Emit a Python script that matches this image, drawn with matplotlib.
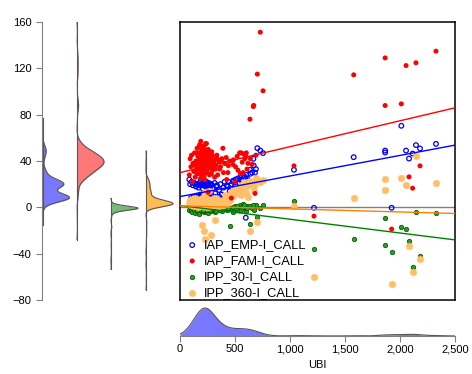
import numpy as np
import matplotlib
matplotlib.use("Agg")
from matplotlib import pyplot as plt
from matplotlib.ticker import FuncFormatter

plt.rcParams["font.family"] = ["Liberation Sans", "DejaVu Sans"]

# observations: UBI and the four call series (same rows)
ubi = [85, 92, 100, 105, 112, 118, 125, 132, 138, 145, 150, 156, 162, 168, 172,
       178, 184, 189, 194, 199, 204, 208, 213, 218, 222, 226, 231, 236, 240, 245,
       250, 255, 260, 266, 272, 278, 285, 292, 300, 310, 320, 330, 342, 355, 368,
       380, 395, 410, 425, 440, 452, 467, 482, 500, 527, 542, 557, 573, 590, 603,
       618, 598, 682,
       140, 148, 155, 163, 170, 176, 182, 187, 192, 197, 202, 206, 211, 215, 219,
       223, 227, 229, 233, 235, 238, 242, 247, 252, 257, 262, 268, 274, 280, 288,
       295, 305, 315, 325, 335, 348, 360, 375, 390, 405, 420, 435, 150, 175, 200,
       225, 250, 275, 300, 215, 235, 255, 190, 210, 230, 245, 265, 220, 240, 260,
       485, 505, 520, 550, 565, 580, 610, 640, 655, 690,
       636, 667, 670, 703, 730, 755,
       1036, 1218, 1579, 1865, 1865, 1924, 2012, 2055, 2082, 2115, 2145, 2182, 2327]
iap_emp = [24, 20, 8, 22, 6, 19, 9, 21, 7, 18, 10, 20, 5, 17, 8,
           21, 11, 23, 7, 19, 9, 16, 6, 20, 12, 8, 18, 10, 21, 7,
           14, 9, 19, 6, 17, 8, 20, 10, 16, 7, 12, 18, 9, 15, 20,
           11, 17, 8, 19, 22, 14, 20, 23, 18, 25, 21, 24, 20, 26, 28,
           23, -9, 30,
           8, 20, 7, 10, 9, 19, 6, 22, 10, 8, 8, 20, 7, 9, 11,
           19, 8, 6, 20, 10, 7, 22, 9, 8, 8, 21, 6, 19, 10, 7,
           8, 7, 21, 9, 19, 8, 9, 11, 7, 22, 9, 18, 8, 10, 10,
           19, 7, 20, 8, 11, 6, 19, 9, 21, 8, 7, 10, 20, 7, 9,
           22, 24, 21, 26, 23, 27, 25, 29, 30, 33,
           32.4, 41.9, 36.1, 51.1, 49.0, 46.8,
           32.4, -0.4, 43.3, 49.0, 47.3, -0.4, 70.4, 49.0, 42.1, 46.4, 53.7, 50.8, 54.8]
iap_fam = [28, 42, 35, 45, 22, 38, 31, 47, 26, 40, 33, 51, 29, 44, 37,
           54, 41, 57, 35, 49, 39, 46, 27, 52, 42, 36, 48, 39, 55, 31,
           44, 13, 38, 47, 34, 41, 29, 45, 37, 40, 33, 43, 28, 39, 35,
           42, 30, 38, 24, 36, 40, 8, 37, 22, 32, 47, 47, 30, 42, 47,
           38, 44, 12,
           36, 47, 29, 44, 33, 52, 42, 25, 45, 40, 31, 49, 43, 38, 27,
           34, 46, 39, 55, 42, 30, 36, 44, 38, 50, 35, 28, 43, 37, 48,
           32, 41, 26, 36, 45, 41, 33, 40, 51, 38, 43, 30, 39, 47, 37,
           24, 38, 42, 35, 53, 44, 37, 29, 38, 46, 36, 39, 31, 48, 40,
           41, 35, 44, 29, 39, 46, 33, 42, 37, 45,
           76.1, 87.0, 88.0, 115.0, 151.2, 100.6,
           35.8, -7.6, 114.4, 129.0, 87.9, -18.8, 89.3, 122.4, 26.3, 16.5, 124.8, 35.8, 134.8]
ipp_30 = [-2, 0, -3, -1, -4, 1, -2, 0, -5, -1, 2, -3, -1, 0, -6,
          -2, 1, -1, -3, 0, -2, 3, -1, -4, 0, -2, 1, -1, -3, 0,
          -5, -1, 2, -2, 0, -3, -1, 1, -2, 0, -4, -1, 2, -2, 0,
          -3, -1, 1, -2, 0, -16, -1, -4, 1, -2, 2, -1, 3, 0, -3,
          1, -1, 0,
          -1, 0, -2, -1, 1, -1, 0, -2, -1, 0, -1, -3, 0, -1, 1,
          -2, -1, 0, -1, 2, 0, -1, -2, -1, 0, -1, 1, -1, -2, 0,
          -1, 0, -1, -3, -1, 0, -2, -1, 1, -1, 0, -1, -2, 0, -1,
          -1, 1, -2, 0, -1, -1, 0, -1, -2, 0, -1, -1, 2, -1, 0,
          0, -1, 1, -2, 0, 2, -1, 1, -1, 2,
          -14.2, 2.0, -2.0, -8.2, -1.0, 1.6,
          5.3, -36.4, -27.5, -9.1, -32.7, -38.4, -17.1, -18.3, -29.2, -51.1, -3.9, -41.6, -5.0]
ipp_360 = [4, 6, 2, 7, 3, 5, 1, 8, 4, 2, 6, 3, 0, 5, 3,
           7, 4, 2, 6, -15, 3, 8, 1, -20, 4, -27, 5, 2, 6, 3,
           0, 7, 4, 1, 5, 3, -24, 6, 2, 8, -11, 4, 1, 6, 3,
           5, 2, 7, 4, 9, 6, 12, 10, 15, 13, 17, 11, 19, 14, 21,
           9, 12, 20,
           3, 2, 4, 1, 3, 5, 2, 3, 4, 6, 2, 3, 1, 4, 3,
           2, 5, 3, 0, 4, 3, 2, 6, 3, 4, 1, 3, 2, 5, 3,
           4, 3, 2, 8, 3, 1, 4, 3, 2, 11, 3, 5, 2, 4, 3,
           13, 2, 3, 4, 10, 3, 2, 4, 3, 12, 1, 3, 5, 2, 14,
           14, 17, 12, 19, 15, 22, 18, 23, 20, 25,
           -20.0, 18.0, 15.0, -12.8, 22.0, 24.0,
           1.3, -60.0, 7.9, 24.3, 14.8, -66.6, 25.2, 19.2, -33.0, -55.4, 44.2, -44.2, 21.4]

labels = ["IAP_EMP-I_CALL", "IAP_FAM-I_CALL", "IPP_30-I_CALL", "IPP_360-I_CALL"]
# fitted lines (intercept, slope)
fit_intercept = [9.3, 30.0, 1.6, 1.3]
fit_slope = [0.01776, 0.02236, -0.01188, -0.00264]

series = [iap_emp, iap_fam, ipp_30, ipp_360]
dot_colors = ["#0000FF", "#FF0000", "#008000", "#FFBF66"]
line_colors = ["#0000FF", "#FF0000", "#008000", "#FF8000"]
fill_colors = ["#7777FF", "#FF7777", "#77BB77", "#FFBB55"]
bandwidths = [3.3, 4.5, 1.2, 2.2]


def kde(vals, grid, bw):
    vals = np.asarray(vals, dtype=float)
    z = (grid[:, None] - vals[None, :]) / bw
    return np.exp(-0.5 * z ** 2).sum(axis=1) / (len(vals) * bw * np.sqrt(2 * np.pi))


W, H = 472, 374
fig = plt.figure(figsize=(W / 100, H / 100), dpi=100)


def box(x0, y0, x1, y1):
    return [x0 / W, 1 - y1 / H, (x1 - x0) / W, (y1 - y0) / H]


ax = fig.add_axes(box(180, 22, 455, 300))
axv = fig.add_axes(box(42, 22, 178, 300))
axb = fig.add_axes(box(180, 303, 455, 336))

ylim = (-80, 160)

# main scatter
ax.axhline(0, color="#808080", lw=1, zorder=1)
xs = np.array([0, 2500])
ax.scatter(ubi, iap_emp, s=11, facecolors="none", edgecolors=dot_colors[0], linewidths=0.9,
           label=labels[0], zorder=2.6)
ax.scatter(ubi, iap_fam, s=13, color=dot_colors[1], edgecolors="none", label=labels[1], zorder=3)
ax.scatter(ubi, ipp_30, s=10, color="#2E9A2E", edgecolors="#006400", linewidths=0.6,
           label=labels[2], zorder=2)
ax.scatter(ubi, ipp_360, s=16, color=dot_colors[3], marker=(8, 2, 0), linewidths=1.3,
           label=labels[3], zorder=2.8)
for b0, b1, c in zip(fit_intercept, fit_slope, line_colors):
    ax.plot(xs, b0 + b1 * xs, color=c, lw=1, zorder=4)
ax.set_xlim(0, 2500)
ax.set_ylim(*ylim)
ax.set_xticks([])
ax.set_yticks([])
for s in ax.spines.values():
    s.set_color("black")
    s.set_linewidth(1.1)
ax.legend(loc="lower left", bbox_to_anchor=(-0.012, -0.025), frameon=False, fontsize=9.3,
          handletextpad=0.3, labelspacing=0.3, handlelength=1.2, borderaxespad=0.2)

# half violins on the left
bases = [0.5, 35, 69, 104]
width = 27
for vals, base, bw, fc in zip(series, bases, bandwidths, fill_colors):
    lo, hi = min(vals) - 2 * bw, max(vals) + 2 * bw
    grid = np.linspace(lo, hi, 600)
    d = kde(vals, grid, bw)
    d = d / d.max() * width
    axv.fill_betweenx(grid, base, base + d, color=fc, lw=0)
    axv.plot(base + d, grid, color="#555555", lw=0.8)
    axv.plot([base, base], [lo, hi], color="#555555", lw=0.8)
axv.set_xlim(0, 136)
axv.set_ylim(*ylim)
axv.set_yticks([-80, -40, 0, 40, 80, 120, 160])
axv.set_xticks([])
for k in ["top", "right", "bottom"]:
    axv.spines[k].set_visible(False)
axv.spines["left"].set_color("#808080")
axv.tick_params(axis="y", colors="#808080", labelcolor="black", labelsize=8, length=4)

# UBI density underneath
gx = np.linspace(0, 2500, 800)
gd = kde(ubi, gx, 75)
axb.fill_between(gx, 0, gd, color=fill_colors[0], lw=0)
axb.plot(gx, gd, color="#555555", lw=0.8)
axb.set_xlim(0, 2500)
axb.set_ylim(0, gd.max() * 1.18)
axb.set_yticks([])
axb.set_xticks([0, 500, 1000, 1500, 2000, 2500])
axb.xaxis.set_major_formatter(FuncFormatter(lambda v, p: f"{v:,.0f}"))
for k in ["top", "right", "left"]:
    axb.spines[k].set_visible(False)
axb.spines["bottom"].set_color("#808080")
axb.tick_params(axis="x", colors="#808080", labelcolor="black", labelsize=8, length=4, pad=2)
axb.set_xlabel("UBI", fontsize=8, labelpad=4)

fig.savefig("out.png", dpi=100)
plt.close(fig)
